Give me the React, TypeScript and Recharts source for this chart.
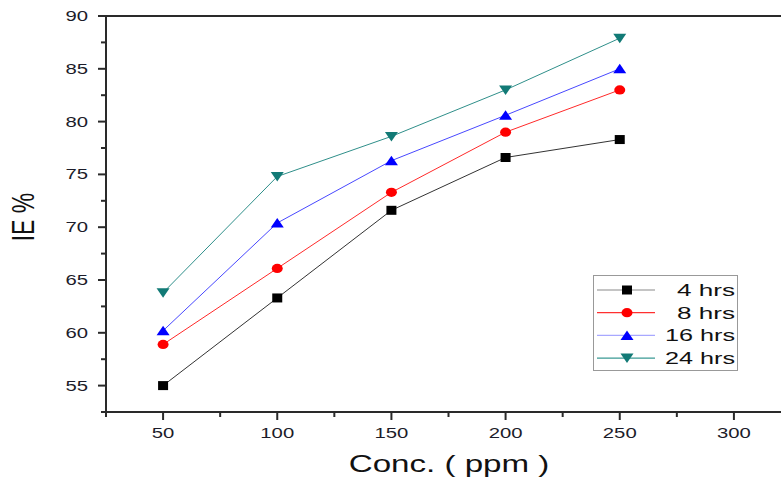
import React from 'react'
import { LineChart, Line, XAxis, YAxis, ReferenceLine } from 'recharts'

// concentration (ppm) and inhibition efficiency (%) per immersion time
const concentrations = [50, 100, 150, 200, 250]
const ie4hrs = [55.0, 63.3, 71.6, 76.6, 78.3]
const ie8hrs = [58.9, 66.1, 73.3, 79.0, 83.0]
const ie16hrs = [60.2, 70.4, 76.3, 80.6, 85.0]
const ie24hrs = [63.8, 74.8, 78.6, 83.0, 87.9]

const xTicks = [25, 50, 75, 100, 125, 150, 175, 200, 225, 250, 275, 300, 325]
const yTicks = [52.5, 55, 57.5, 60, 62.5, 65, 67.5, 70, 72.5, 75, 77.5, 80, 82.5, 85, 87.5, 90]

const data = concentrations.map((c, i) => ({
  conc: c,
  h4: ie4hrs[i],
  h8: ie8hrs[i],
  h16: ie16hrs[i],
  h24: ie24hrs[i],
}))

const FONT = '"Liberation Sans", Arial, sans-serif'
const AXIS = '#2a2a2a'
const TEXT = '#1c1c2a'
const STRETCH = 1.4

type MarkerKind = 'square' | 'circle' | 'up' | 'down'

const Marker = ({ kind, cx, cy, fill }: { kind: MarkerKind; cx: number; cy: number; fill: string }) => {
  if (kind === 'square') return <rect x={cx - 5} y={cy - 4.5} width={10} height={9} fill={fill} />
  if (kind === 'circle') return <ellipse cx={cx} cy={cy} rx={5.5} ry={4.6} fill={fill} />
  if (kind === 'up')
    return <polygon points={`${cx - 6.5},${cy + 4.5} ${cx + 6.5},${cy + 4.5} ${cx},${cy - 5}`} fill={fill} />
  return <polygon points={`${cx - 6.5},${cy - 4.5} ${cx + 6.5},${cy - 4.5} ${cx},${cy + 5}`} fill={fill} />
}

const series = [
  { key: 'h4', name: '4 hrs', line: '#333333', legendLine: '#8a8a8a', fill: '#000000', kind: 'square' as MarkerKind, textLen: 58 },
  { key: 'h8', name: '8 hrs', line: '#ff2a2a', legendLine: '#ff3030', fill: '#ff0000', kind: 'circle' as MarkerKind, textLen: 58 },
  { key: 'h16', name: '16 hrs', line: '#4848ff', legendLine: '#a8a8ff', fill: '#0000ff', kind: 'up' as MarkerKind, textLen: 70 },
  { key: 'h24', name: '24 hrs', line: '#2f8f8a', legendLine: '#3a9a94', fill: '#127a76', kind: 'down' as MarkerKind, textLen: 70 },
]

const XTick = (props: any) => {
  const { x, y, payload } = props
  const major = payload.value % 50 === 0
  return (
    <g>
      <line x1={x} x2={x} y1={y} y2={y + (major ? 8 : 5)} stroke={AXIS} strokeWidth={2} />
      {major && (
        <text
          transform={`translate(${x},${y + 26}) scale(${STRETCH},1)`}
          textAnchor="middle"
          fontSize={14.5}
          fontFamily={FONT}
          fill={TEXT}
        >
          {payload.value}
        </text>
      )}
    </g>
  )
}

const YTick = (props: any) => {
  const { x, y, payload } = props
  const major = payload.value % 5 === 0
  return (
    <g>
      <line x1={x} x2={x - (major ? 8 : 5)} y1={y} y2={y} stroke={AXIS} strokeWidth={2} />
      {major && (
        <text
          transform={`translate(${x - 18},${y + 5}) scale(${STRETCH},1)`}
          textAnchor="end"
          fontSize={14.5}
          fontFamily={FONT}
          fill={TEXT}
        >
          {payload.value}
        </text>
      )}
    </g>
  )
}

const XTitle = () => (
  <text
    transform={`translate(449,472) scale(1.38,1)`}
    textAnchor="middle"
    fontSize={24}
    fontFamily={FONT}
    fill="#111"
  >
    Conc. ( ppm )
  </text>
)

const YTitle = () => (
  <text
    transform={`translate(34,217) scale(1.35,1) rotate(-90)`}
    textAnchor="middle"
    fontSize={23}
    fontFamily={FONT}
    fill="#111"
  >
    IE %
  </text>
)

const LegendBox = () => (
  <svg width={145} height={96} style={{ position: 'absolute', left: 593, top: 275 }}>
    <rect x={0.5} y={0.5} width={144} height={95} fill="#fff" stroke="#999" strokeWidth={1} />
    {series.map((s, i) => {
      const cy = 15 + i * 22.7
      return (
        <g key={s.key}>
          <line x1={4} x2={62} y1={cy} y2={cy} stroke={s.legendLine} strokeWidth={1.2} />
          <Marker kind={s.kind} cx={34} cy={cy} fill={s.fill} />
          <text
            x={142}
            y={cy + 6}
            textAnchor="end"
            fontSize={17}
            fontFamily={FONT}
            fill="#111"
            textLength={s.textLen}
            lengthAdjust="spacingAndGlyphs"
          >
            {s.name}
          </text>
        </g>
      )
    })}
  </svg>
)

export default function App() {
  return (
    <div style={{ position: 'absolute', left: 0, top: 0, width: 781, height: 478, overflow: 'hidden', background: '#fff' }}>
      <LineChart width={800} height={478} data={data} margin={{ top: 16, right: 9, left: 0, bottom: 0 }}>
        <XAxis
          dataKey="conc"
          type="number"
          domain={[25, 325]}
          ticks={xTicks}
          interval={0}
          height={66}
          tickSize={0}
          tickMargin={0}
          tickLine={false}
          tick={<XTick />}
          axisLine={{ stroke: AXIS, strokeWidth: 2 }}
          label={<XTitle />}
        />
        <YAxis
          type="number"
          domain={[52.5, 90]}
          ticks={yTicks}
          interval={0}
          width={106}
          tickSize={0}
          tickMargin={0}
          tickLine={false}
          tick={<YTick />}
          axisLine={{ stroke: AXIS, strokeWidth: 2 }}
          label={<YTitle />}
        />
        <ReferenceLine y={90} stroke={AXIS} strokeWidth={2} />
        {series.map((s) => (
          <Line
            key={s.key}
            dataKey={s.key}
            name={s.name}
            stroke={s.line}
            strokeWidth={1}
            isAnimationActive={false}
            dot={(p: any) => <Marker key={`${s.key}-${p.index}`} kind={s.kind} cx={p.cx} cy={p.cy} fill={s.fill} />}
            activeDot={false}
          />
        ))}
      </LineChart>
      <LegendBox />
    </div>
  )
}
